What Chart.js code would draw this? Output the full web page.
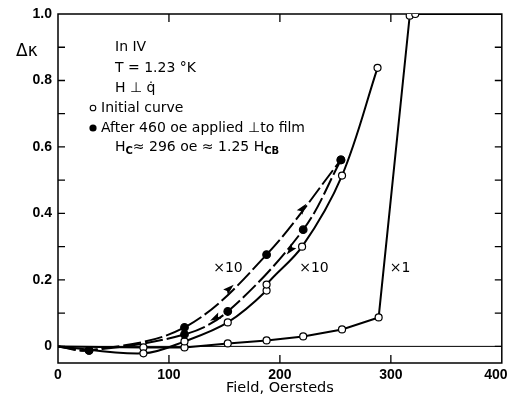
<!DOCTYPE html>
<html>
<head>
<meta charset="utf-8">
<script src="https://cdn.jsdelivr.net/npm/chart.js@4.4.0/dist/chart.umd.min.js"></script>
<style>
    html, body { margin: 0; padding: 0; background: #fff; }
    #wrap { width: 507px; height: 399px; }
</style>
</head>
<body>
<div id="wrap"><canvas id="chart" width="507" height="399"></canvas></div>
<script>
// Osie
const xTicks = [0, 100, 200, 300, 400];
const yTicks = [0, 0.2, 0.4, 0.6, 0.8, 1.0];
const yMinorTicks = [0, 0.1, 0.2, 0.3, 0.4, 0.5, 0.6, 0.7, 0.8, 0.9];

// wszystkie krzywe startuja z zera
const originField = 0;
const originValue = 0;

// Initial curve, x1
const x1Field = [77, 114, 153, 188, 221, 256, 289, 317, 322];
const x1Value = [-0.003, -0.003, 0.009, 0.018, 0.03, 0.051, 0.087, 0.995, 1.0];
const x1EndField = 400;
const x1EndValue = 1.0;

// Initial curve, x10
const x10Field = [77, 114, 153, 188, 188, 220, 256, 288];
const x10Value = [-0.021, 0.015, 0.072, 0.168, 0.186, 0.30, 0.514, 0.838];

// After 460 oe, rosnace pole (x10)
const upField = [28, 114, 188, 255];
const upValue = [-0.012, 0.057, 0.276, 0.561];

// After 460 oe, malejace pole (x10)
const downField = [28, 114, 153, 221, 255];
const downValue = [-0.012, 0.036, 0.105, 0.351, 0.561];

// strzalki: [pole od, wartosc od, pole do, wartosc do]
const arrows = [
    [145, 0.145, 155, 0.175],
    [211, 0.374, 221, 0.417],
    [219, 0.330, 209, 0.288],
    [151, 0.101, 141, 0.084],
];

function toPoints(fields, values) {
    return fields.map((x, i) => ({ x: x, y: values[i] }));
}

function curve(fields, values, extra = []) {
    return [{ x: originField, y: originValue }, ...toPoints(fields, values), ...extra];
}

const fontSans = "'DejaVu Sans', sans-serif";
const fontTicks = "'Liberation Sans', sans-serif";

function markers(fields, values, filled) {
    return {
        data: toPoints(fields, values),
        showLine: false,
        pointRadius: filled ? 3.8 : 3.5,
        pointBorderWidth: 1.2,
        pointBorderColor: '#000',
        pointBackgroundColor: filled ? '#000' : '#fff',
    };
}

function line(data, options = {}) {
    return Object.assign({
        data: data,
        showLine: true,
        pointRadius: 0,
        borderColor: '#000',
        borderWidth: 2,
        tension: 0.35,
    }, options);
}

const datasets = [
    markers(upField, upValue, true),
    markers(downField, downValue, true),
    markers(x10Field, x10Value, false),
    markers(x1Field, x1Value, false),
    line(curve(upField, upValue), { borderDash: [18, 4] }),
    line(curve(downField, downValue), { borderDash: [18, 4] }),
    line(curve(x10Field, x10Value)),
    line(curve(x1Field, x1Value, [{ x: x1EndField, y: x1EndValue }]), { tension: 0 }),
];

// Ramka z wewnetrznymi kreskami
const framePlugin = {
    id: 'frame',
    beforeDatasetsDraw(chart) {
        const { ctx, chartArea: a, scales: { x, y } } = chart;
        ctx.save();
        ctx.strokeStyle = '#000';
        ctx.lineWidth = 1.5;
        ctx.strokeRect(a.left, a.top, a.right - a.left, a.bottom - a.top);

        ctx.lineWidth = 1;
        ctx.beginPath();
        ctx.moveTo(a.left, y.getPixelForValue(0));
        ctx.lineTo(a.right, y.getPixelForValue(0));
        ctx.stroke();

        ctx.lineWidth = 1.3;
        ctx.beginPath();
        yMinorTicks.forEach(v => {
            const py = y.getPixelForValue(v);
            ctx.moveTo(a.left, py); ctx.lineTo(a.left + 7, py);
            ctx.moveTo(a.right, py); ctx.lineTo(a.right - 7, py);
        });
        xTicks.slice(1, -1).forEach(v => {
            const px = x.getPixelForValue(v);
            ctx.moveTo(px, a.bottom); ctx.lineTo(px, a.bottom - 8);
            ctx.moveTo(px, a.top); ctx.lineTo(px, a.top + 8);
        });
        ctx.stroke();
        ctx.restore();
    }
};

// Grotki strzalek
const arrowPlugin = {
    id: 'arrows',
    afterDatasetsDraw(chart) {
        const { ctx, scales: { x, y } } = chart;
        ctx.save();
        ctx.fillStyle = '#000';
        arrows.forEach(([x0, y0, x1, y1]) => {
            const ax = x.getPixelForValue(x1);
            const ay = y.getPixelForValue(y1);
            const ang = Math.atan2(ay - y.getPixelForValue(y0), ax - x.getPixelForValue(x0));
            ctx.save();
            ctx.translate(ax, ay);
            ctx.rotate(ang);
            ctx.beginPath();
            ctx.moveTo(5, 0);
            ctx.lineTo(-6, -3.5);
            ctx.lineTo(-4, 0);
            ctx.lineTo(-6, 3.5);
            ctx.closePath();
            ctx.fill();
            ctx.restore();
        });
        ctx.restore();
    }
};

function drawRuns(ctx, x, y, runs, size) {
    let cx = x;
    runs.forEach(([text, sub]) => {
        ctx.font = (sub ? Math.round(size * 0.72) + 'px ' : size + 'px ') + fontSans;
        if (sub) ctx.font = 'bold ' + ctx.font;
        ctx.fillText(text, cx, sub ? y + 4 : y);
        cx += ctx.measureText(text).width;
    });
}

// Opisy
const textPlugin = {
    id: 'texts',
    afterDraw(chart) {
        const { ctx, scales: { x } } = chart;
        ctx.save();
        ctx.fillStyle = '#000';
        ctx.textBaseline = 'middle';
        ctx.textAlign = 'left';

        ctx.font = '17px ' + fontSans;
        ctx.fillText('\u0394\u03BA', 16, 52);

        ctx.font = '14px ' + fontSans;
        ctx.fillText('In IV', 115, 47);
        ctx.fillText('T = 1.23 \u00B0K', 115, 68);
        ctx.fillText('H \u22A5 q\u0307', 115, 88);
        ctx.fillText('Initial curve', 101, 108);
        ctx.fillText('After 460 oe applied \u22A5to film', 101, 128);
        drawRuns(ctx, 115, 147, [['H', false], ['C', true], ['\u2248 296 oe \u2248 1.25 H', false], ['CB', true]], 14);

        ctx.lineWidth = 1.1;
        ctx.beginPath();
        ctx.arc(93, 108, 2.8, 0, Math.PI * 2);
        ctx.stroke();
        ctx.beginPath();
        ctx.arc(93, 128, 3.6, 0, Math.PI * 2);
        ctx.fill();

        ctx.font = '14px ' + fontSans;
        ctx.textAlign = 'center';
        ctx.fillText('\u00D710', 228, 268);
        ctx.fillText('\u00D710', 314, 268);
        ctx.fillText('\u00D71', 400, 268);

        ctx.font = '14.5px ' + fontSans;
        ctx.fillText('Field, Oersteds', (x.left + x.right) / 2, 388);
        ctx.restore();
    }
};

const ctx = document.getElementById('chart').getContext('2d');
new Chart(ctx, {
    type: 'scatter',
    data: { datasets: datasets },
    options: {
        responsive: false,
        animation: false,
        layout: { padding: { top: 14, right: 4, left: 0, bottom: 0 } },
        plugins: { legend: { display: false }, tooltip: { enabled: false } },
        scales: {
            x: {
                type: 'linear',
                min: 0,
                max: 400,
                grid: { display: false, drawTicks: false },
                border: { display: false },
                afterBuildTicks: (s) => { s.ticks = xTicks.map(v => ({ value: v })); },
                afterFit: (s) => { s.height = 36; s.paddingLeft = 0; s.paddingRight = 0; },
                ticks: {
                    color: '#000',
                    padding: 4,
                    maxRotation: 0,
                    autoSkip: false,
                    font: { family: fontTicks, weight: 'bold', size: 14 },
                    // ostatnia etykieta przesunieta do lewej jak w oryginale
                    callback: (v) => (v === 400 ? '400   ' : String(v)),
                },
            },
            y: {
                type: 'linear',
                min: -0.05,
                max: 1.0,
                grid: { display: false, drawTicks: false },
                border: { display: false },
                afterBuildTicks: (s) => { s.ticks = yTicks.map(v => ({ value: v })); },
                afterFit: (s) => { s.width = 58; s.paddingTop = 0; s.paddingBottom = 0; },
                ticks: {
                    color: '#000',
                    padding: 6,
                    autoSkip: false,
                    font: { family: fontTicks, weight: 'bold', size: 14 },
                    callback: (v) => (v === 0 ? '0' : v.toFixed(1)),
                },
            },
        },
    },
    plugins: [framePlugin, arrowPlugin, textPlugin],
});
</script>
</body>
</html>
